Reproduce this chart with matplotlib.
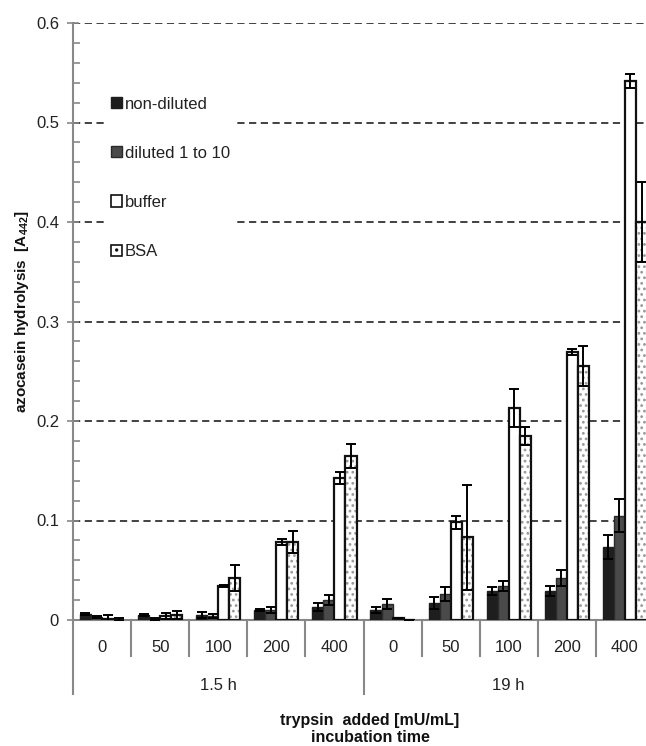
import matplotlib.pyplot as plt
from matplotlib.patches import Patch
from matplotlib.transforms import blended_transform_factory
import numpy as np

# Data
doses = ['0', '50', '100', '200', '400', '0', '50', '100', '200', '400']
times = ['1.5 h', '19 h']

non_diluted = [0.006, 0.005, 0.005, 0.010, 0.013, 0.010, 0.017, 0.029, 0.029, 0.073]
non_diluted_err = [0.001, 0.001, 0.003, 0.001, 0.004, 0.003, 0.006, 0.004, 0.005, 0.012]
diluted = [0.003, 0.001, 0.004, 0.010, 0.020, 0.016, 0.026, 0.034, 0.042, 0.105]
diluted_err = [0.001, 0.001, 0.002, 0.003, 0.005, 0.005, 0.007, 0.005, 0.008, 0.017]
buffer = [0.001, 0.004, 0.034, 0.078, 0.143, 0.002, 0.098, 0.213, 0.269, 0.542]
buffer_err = [0.004, 0.003, 0.001, 0.003, 0.006, 0.0, 0.007, 0.019, 0.003, 0.007]
bsa = [0.0005, 0.005, 0.042, 0.078, 0.165, 0.0, 0.083, 0.185, 0.255, 0.400]
bsa_err = [0.002, 0.004, 0.013, 0.011, 0.012, 0.0, 0.053, 0.009, 0.020, 0.040]

plt.rcParams['font.family'] = ['Liberation Sans', 'DejaVu Sans']
plt.rcParams['hatch.linewidth'] = 1.2

W, H = 646, 746
fig = plt.figure(figsize=(W / 100, H / 100), dpi=100)
ax = fig.add_axes([73 / W, 1 - 620 / H, (654 - 73) / W, (620 - 23) / H])

x = np.arange(len(doses)) + 0.5
bw = 0.19
offs = np.array([-1.5, -0.5, 0.5, 1.5]) * bw
ekw = dict(ecolor='black', elinewidth=1.4, capsize=3.5, capthick=1.4, zorder=5)

ax.bar(x + offs[0], non_diluted, bw, color='#1e1e1e', edgecolor='#1e1e1e', lw=1, zorder=3)
ax.errorbar(x + offs[0], non_diluted, yerr=non_diluted_err, fmt='none', **ekw)
ax.bar(x + offs[1], diluted, bw, color='#4a4a4a', edgecolor='#2a2a2a', lw=1, zorder=3)
ax.errorbar(x + offs[1], diluted, yerr=diluted_err, fmt='none', **ekw)
ax.bar(x + offs[2], buffer, bw, color='white', edgecolor='#111111', lw=1.6, zorder=3)
ax.errorbar(x + offs[2], buffer, yerr=buffer_err, fmt='none', **ekw)
ax.bar(x + offs[3], bsa, bw, color='white', edgecolor='#999999', hatch='...', lw=0, zorder=3)
ax.bar(x + offs[3], bsa, bw, fill=False, edgecolor='#111111', lw=1.6, zorder=4)
ax.errorbar(x + offs[3], bsa, yerr=bsa_err, fmt='none', **ekw)

ax.set_xlim(0, len(doses))
ax.set_ylim(0, 0.6)
ax.set_yticks(np.arange(0, 0.61, 0.1))
ax.set_yticklabels(['0', '0.1', '0.2', '0.3', '0.4', '0.5', '0.6'])
ax.set_yticks(np.arange(0, 0.6, 0.02), minor=True)
ax.yaxis.grid(True, which='major', linestyle=(0, (4, 2.5)), color='#333333', lw=1.3, zorder=0)
ax.tick_params(axis='y', which='major', direction='inout', length=8, width=1.2,
               color='#888888', labelsize=12, labelcolor='#222222', pad=6)
ax.tick_params(axis='y', which='minor', direction='in', length=5, width=1.2, color='#888888')
ax.set_xticks([])

for s in ['top', 'right']:
    ax.spines[s].set_visible(False)
for s in ['left', 'bottom']:
    ax.spines[s].set_color('#888888')
    ax.spines[s].set_linewidth(1.5)

# category axis below the plot
tr = blended_transform_factory(ax.transData, ax.transAxes)
px = 1 / (620 - 23)
for i, lab in enumerate(doses):
    ax.text(x[i], -27 * px, lab, transform=tr, ha='center', va='center',
            fontsize=12, color='#222222')
for i in range(1, len(doses)):
    if i == 5:
        continue
    ax.plot([i, i], [0, -36 * px], transform=tr, color='#888888', lw=1.5, clip_on=False)
for i in [0, 5, 10]:
    ax.plot([i, i], [0, -74 * px], transform=tr, color='#888888', lw=1.5, clip_on=False)
for j, lab in enumerate(times):
    ax.text(2.5 + 5 * j, -65 * px, lab, transform=tr, ha='center', va='center',
            fontsize=12, color='#222222')

fig.text(370 / W, 1 - 721 / H, 'trypsin  added [mU/mL]', ha='center', va='center',
         fontsize=11.5, fontweight='bold', color='#111111')
fig.text(370 / W, 1 - 738 / H, 'incubation time', ha='center', va='center',
         fontsize=11.5, fontweight='bold', color='#111111')
fig.text(22 / W, 1 - 312 / H, 'azocasein hydrolysis  [A$_{\\mathregular{442}}$]', rotation=90,
         ha='center', va='center', fontsize=11, fontweight='bold', color='#111111')

handles = [
    Patch(facecolor='#1e1e1e', edgecolor='#1e1e1e', label='non-diluted'),
    Patch(facecolor='#4a4a4a', edgecolor='#2a2a2a', label='diluted 1 to 10'),
    Patch(facecolor='white', edgecolor='#111111', lw=1.2, label='buffer'),
    Patch(facecolor='white', edgecolor='#111111', lw=1.2, hatch='..', label='BSA'),
]
leg = ax.legend(handles=handles, loc='upper left', bbox_to_anchor=(31 / 581, 0.888),
                frameon=True, fancybox=False, framealpha=1, facecolor='white', edgecolor='none',
                fontsize=12, handlelength=0.65, handleheight=0.65, handletextpad=0.2,
                labelspacing=2.05, borderpad=0.4, borderaxespad=0)
leg.set_zorder(6)
for t in leg.get_texts():
    t.set_color('#222222')

fig.savefig('out.png', dpi=100)
